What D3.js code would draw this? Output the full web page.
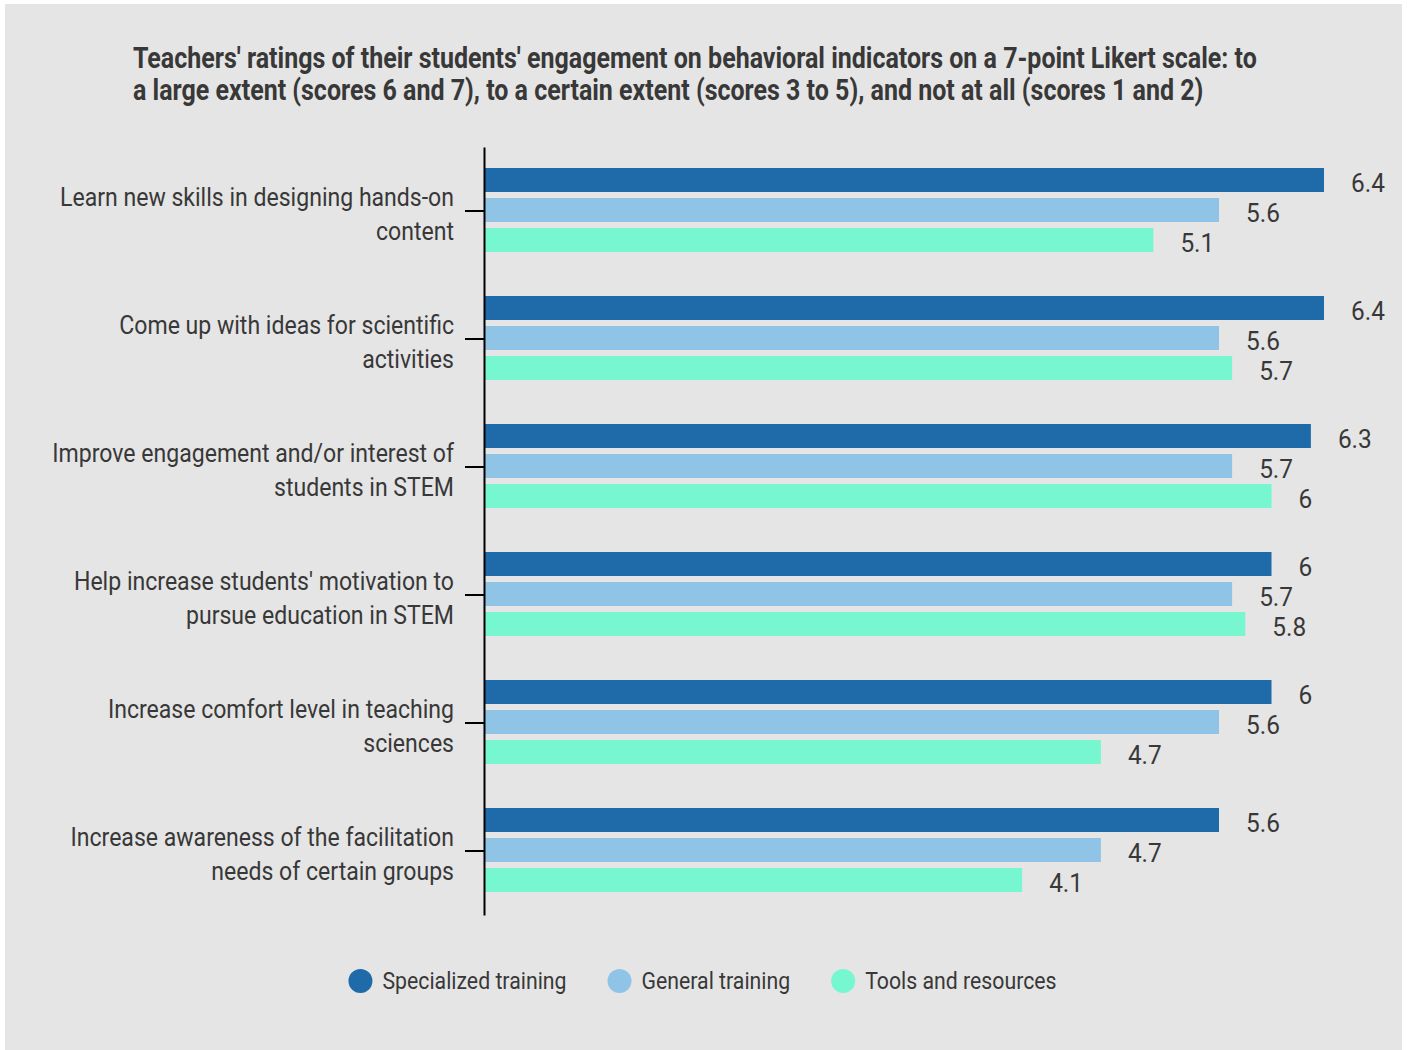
<!DOCTYPE html>
<html>
<head>
<meta charset="utf-8">
<script src="https://cdn.jsdelivr.net/npm/d3@7"></script>
<style>
  html, body { margin: 0; padding: 0; background: #ffffff; }
  svg { display: block; }
  text { font-family: Roboto, "Noto Sans", sans-serif; fill: #383838; }
</style>
</head>
<body>
<svg id="chart" width="1408" height="1050"></svg>
<script>
// Indicator categories (two lines each)
const categories = [
  ["Learn new skills in designing hands-on", "content"],
  ["Come up with ideas for scientific", "activities"],
  ["Improve engagement and/or interest of", "students in STEM"],
  ["Help increase students' motivation to", "pursue education in STEM"],
  ["Increase comfort level in teaching", "sciences"],
  ["Increase awareness of the facilitation", "needs of certain groups"]
];
const seriesNames = ["Specialized training", "General training", "Tools and resources"];
const specialized = [6.4, 6.4, 6.3, 6, 6, 5.6];
const general     = [5.6, 5.6, 5.7, 5.7, 5.6, 4.7];
const tools       = [5.1, 5.7, 6, 5.8, 4.7, 4.1];
const titleLines = [
  "Teachers' ratings of their students' engagement on behavioral indicators on a 7-point Likert scale: to",
  "a large extent (scores 6 and 7), to a certain extent (scores 3 to 5), and not at all (scores 1 and 2)"
];
const colors = ["#1f6aa8", "#90c4e6", "#77f7cf"];

const seriesValues = [specialized, general, tools];
const catKeys = categories.map((c, i) => i);

// horizontal glyph compression per text role (narrow face look)
const SX_TITLE = 0.862;
const SX_LABEL = 0.887;
const SX_VALUE = 0.94;
const SX_LEGEND = 0.925;

const svg = d3.select("#chart");

// panel background
svg.append("rect")
  .attr("x", 5).attr("y", 4).attr("width", 1397).attr("height", 1050)
  .attr("fill", "#e5e5e5");

// title
titleLines.forEach((t, i) => {
  svg.append("text")
    .attr("transform", `translate(133,${68 + i * 32}) scale(${SX_TITLE},1)`)
    .attr("font-size", 29).attr("font-weight", 700)
    .attr("fill", "#333333")
    .text(t);
});

const x = d3.scaleLinear().domain([0, 7]).range([484, 484 + 7 * 131.25]);
const y = d3.scaleBand().domain(catKeys).range([147, 915]).paddingInner(0).paddingOuter(0);
const yInner = d3.scaleBand().domain([0, 1, 2]).range([18, 108]).paddingInner(0.2).paddingOuter(0.1);

// bars
const groups = svg.append("g").selectAll("g")
  .data(catKeys).join("g")
  .attr("transform", d => `translate(0,${y(d)})`);

groups.selectAll("rect")
  .data(ci => seriesValues.map((vals, si) => ({ si, v: vals[ci] })))
  .join("rect")
  .attr("x", x(0))
  .attr("y", d => yInner(d.si))
  .attr("width", d => x(d.v) - x(0))
  .attr("height", yInner.bandwidth())
  .attr("fill", d => colors[d.si]);

// value labels
groups.selectAll("text.val")
  .data(ci => seriesValues.map((vals, si) => ({ si, v: vals[ci] })))
  .join("text")
  .attr("class", "val")
  .attr("transform", d => `translate(${x(d.v) + 27},${yInner(d.si) + yInner.bandwidth()}) scale(${SX_VALUE},1)`)
  .attr("font-size", 26)
  .text(d => d3.format("")(d.v));

// axis
const axis = d3.axisLeft(y).tickSize(19).tickSizeOuter(0).tickFormat("");
const axG = svg.append("g").attr("transform", `translate(${x(0)},0)`).call(axis);
axG.select(".domain").attr("stroke", "#000").attr("stroke-width", 2);
axG.selectAll(".tick line").attr("stroke", "#000").attr("stroke-width", 2);

// category labels
catKeys.forEach(ci => {
  const cy = y(ci) + y.bandwidth() / 2;
  categories[ci].forEach((line, li) => {
    svg.append("text")
      .attr("transform", `translate(454,${cy - 5 + li * 34}) scale(${SX_LABEL},1)`)
      .attr("text-anchor", "end")
      .attr("font-size", 26)
      .text(line);
  });
});

// legend
const legend = svg.append("g");
let lx = 0;
seriesNames.forEach((name, i) => {
  const g = legend.append("g").attr("transform", `translate(${lx},0)`);
  g.append("circle").attr("cx", 12).attr("cy", 0).attr("r", 12).attr("fill", colors[i]);
  const t = g.append("text")
    .attr("transform", `translate(34,8) scale(${SX_LEGEND},1)`)
    .attr("font-size", 23)
    .text(name);
  const w = t.node().getComputedTextLength() * SX_LEGEND;
  lx += 34 + w + 41;
});
const legendW = lx - 41;
legend.attr("transform", `translate(${702.5 - legendW / 2},981)`);
</script>
</body>
</html>
